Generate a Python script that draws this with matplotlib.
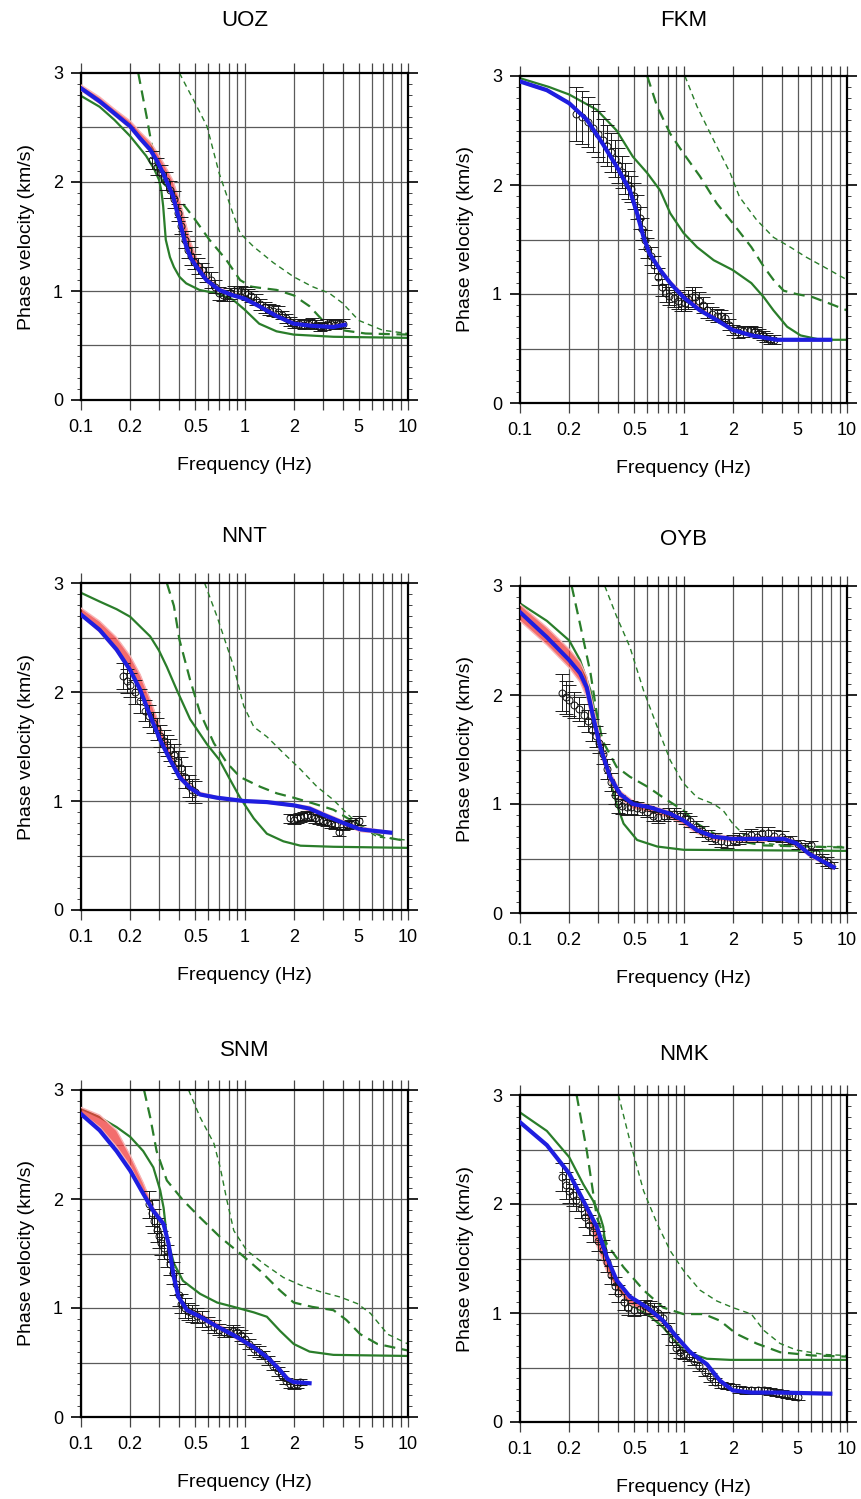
import matplotlib
matplotlib.use("Agg")
import matplotlib.pyplot as plt
from matplotlib.ticker import FixedLocator, MultipleLocator, NullFormatter

plt.rcParams['font.family'] = ['Liberation Sans', 'DejaVu Sans']

# theoretical modes: m0 = fundamental (green solid), m1 / m2 = higher modes (green dashed)
# best = best model (blue), red_hi / red_lo = spread of the accepted models (red band, same freqs as best)
# obs = (freq, phase velocity, error) of the observed dispersion curve

# ---- UOZ ----
uoz_m0 = [(0.1, 2.79), (0.13, 2.69), (0.16, 2.57), (0.2, 2.42), (0.25, 2.24), (0.28, 2.12), (0.3, 2.02),
          (0.31, 1.92), (0.318, 1.78), (0.33, 1.47), (0.35, 1.31), (0.37, 1.22), (0.40, 1.13), (0.44, 1.07),
          (0.53, 1.01), (0.67, 0.98), (0.85, 0.92), (1.0, 0.83), (1.23, 0.70), (1.57, 0.63), (2.0, 0.60),
          (3.5, 0.58), (10, 0.57)]
uoz_m1 = [(0.224, 3.0), (0.252, 2.60), (0.27, 2.35), (0.29, 2.14), (0.318, 1.99), (0.35, 1.93), (0.384, 1.87),
          (0.43, 1.78), (0.485, 1.68), (0.61, 1.47), (0.77, 1.29), (0.94, 1.10), (1.1, 1.04), (1.23, 1.03),
          (1.57, 1.01), (2.0, 0.96), (2.5, 0.86), (3.14, 0.70), (3.97, 0.64), (5.5, 0.61), (10, 0.60)]
uoz_m2 = [(0.40, 3.0), (0.44, 2.88), (0.485, 2.76), (0.59, 2.51), (0.70, 2.08), (0.85, 1.71), (0.94, 1.53),
          (1.13, 1.41), (1.5, 1.26), (2.0, 1.13), (2.6, 1.04), (3.3, 0.98), (3.97, 0.89), (5.0, 0.73),
          (7.0, 0.64), (10, 0.61)]
uoz_best = [(0.1, 2.86), (0.13, 2.74), (0.16, 2.63), (0.2, 2.51), (0.23, 2.40), (0.264, 2.30), (0.29, 2.20),
            (0.318, 2.08), (0.34, 1.98), (0.366, 1.87), (0.38, 1.77), (0.40, 1.65), (0.42, 1.52), (0.44, 1.41),
            (0.47, 1.30), (0.51, 1.22), (0.585, 1.10), (0.70, 1.01), (0.85, 0.96), (1.0, 0.93), (1.23, 0.86),
            (1.57, 0.77), (2.0, 0.70), (2.6, 0.68), (3.5, 0.67), (4.1, 0.69)]
uoz_red_hi = [2.89, 2.78, 2.67, 2.56, 2.46, 2.37, 2.28, 2.18, 2.10, 2.01, 1.93, 1.84, 1.72, 1.60, 1.44, 1.30,
              1.14, 1.03, 0.98, 0.95, 0.88, 0.79, 0.72, 0.70, 0.69, 0.71]
uoz_red_lo = [2.84, 2.72, 2.61, 2.49, 2.38, 2.28, 2.18, 2.06, 1.96, 1.85, 1.75, 1.63, 1.50, 1.39, 1.28, 1.20,
              1.08, 0.99, 0.95, 0.92, 0.85, 0.76, 0.69, 0.67, 0.66, 0.68]
uoz_obs = [(0.27, 2.20, 0.08), (0.29, 2.14, 0.08), (0.31, 2.08, 0.08), (0.33, 2.01, 0.08), (0.35, 1.93, 0.08),
           (0.37, 1.84, 0.08), (0.39, 1.72, 0.08), (0.41, 1.60, 0.08), (0.43, 1.47, 0.08), (0.45, 1.38, 0.08),
           (0.47, 1.32, 0.08), (0.49, 1.27, 0.07), (0.52, 1.23, 0.07), (0.55, 1.19, 0.07), (0.58, 1.15, 0.07),
           (0.62, 1.10, 0.07), (0.66, 1.04, 0.06), (0.70, 0.98, 0.06), (0.74, 0.96, 0.05), (0.78, 0.96, 0.05),
           (0.82, 0.98, 0.05), (0.86, 1.00, 0.05), (0.90, 1.00, 0.05), (0.95, 1.00, 0.05), (1.00, 0.99, 0.05),
           (1.05, 0.97, 0.05), (1.10, 0.95, 0.05), (1.17, 0.92, 0.05), (1.25, 0.88, 0.05), (1.33, 0.85, 0.05),
           (1.42, 0.83, 0.05), (1.50, 0.82, 0.05), (1.60, 0.81, 0.05), (1.70, 0.78, 0.04), (1.80, 0.75, 0.04),
           (1.90, 0.72, 0.04), (2.00, 0.70, 0.04), (2.15, 0.70, 0.04), (2.30, 0.69, 0.04), (2.45, 0.70, 0.04),
           (2.60, 0.71, 0.04), (2.75, 0.69, 0.04), (2.90, 0.67, 0.04), (3.05, 0.68, 0.04), (3.20, 0.70, 0.04),
           (3.40, 0.70, 0.04), (3.60, 0.69, 0.04), (3.80, 0.70, 0.04), (4.00, 0.70, 0.04)]

# ---- FKM ----
fkm_m0 = [(0.1, 2.98), (0.15, 2.90), (0.2, 2.83), (0.295, 2.69), (0.39, 2.50), (0.49, 2.26), (0.6, 2.11),
          (0.72, 1.95), (0.83, 1.74), (1.0, 1.56), (1.21, 1.43), (1.53, 1.31), (2.0, 1.22), (2.6, 1.10),
          (3.1, 0.97), (3.55, 0.85), (4.3, 0.70), (5.2, 0.62), (6.9, 0.58), (10, 0.58)]
fkm_m1 = [(0.60, 3.0), (0.69, 2.72), (0.83, 2.47), (1.0, 2.29), (1.26, 2.08), (1.6, 1.83), (2.0, 1.65),
          (2.6, 1.43), (3.1, 1.25), (3.55, 1.13), (4.1, 1.03), (4.9, 1.00), (6.2, 0.97), (7.9, 0.91), (10, 0.85)]
fkm_m2 = [(1.02, 3.0), (1.21, 2.72), (1.53, 2.41), (1.93, 2.11), (2.2, 1.89), (2.8, 1.68), (3.55, 1.52),
          (4.5, 1.43), (5.6, 1.34), (7.2, 1.25), (10, 1.13)]
fkm_best = [(0.1, 2.95), (0.146, 2.87), (0.2, 2.75), (0.256, 2.60), (0.32, 2.38), (0.39, 2.17), (0.47, 1.95),
            (0.52, 1.74), (0.57, 1.52), (0.62, 1.37), (0.72, 1.22), (0.83, 1.10), (1.0, 0.97), (1.26, 0.85),
            (1.6, 0.76), (2.0, 0.67), (2.6, 0.62), (3.7, 0.58), (6.2, 0.58), (7.9, 0.58)]
fkm_red_hi = [2.96, 2.88, 2.76, 2.61, 2.39, 2.18, 1.96, 1.76, 1.54, 1.39, 1.24, 1.12, 1.00, 0.88, 0.78, 0.69,
              0.63, 0.59, 0.58, 0.58]
fkm_red_lo = [2.94, 2.86, 2.74, 2.59, 2.37, 2.16, 1.94, 1.73, 1.51, 1.36, 1.21, 1.09, 0.96, 0.84, 0.75, 0.66,
              0.61, 0.57, 0.57, 0.57]
fkm_obs = [(0.22, 2.65, 0.25), (0.24, 2.62, 0.24), (0.26, 2.58, 0.23), (0.28, 2.52, 0.22), (0.30, 2.47, 0.21),
           (0.32, 2.41, 0.20), (0.34, 2.36, 0.19), (0.36, 2.30, 0.18), (0.38, 2.24, 0.17), (0.40, 2.18, 0.16),
           (0.42, 2.12, 0.15), (0.44, 2.06, 0.14), (0.46, 2.00, 0.13), (0.48, 1.96, 0.12), (0.50, 1.90, 0.12),
           (0.52, 1.80, 0.11), (0.54, 1.70, 0.10), (0.56, 1.60, 0.10), (0.58, 1.50, 0.09), (0.60, 1.42, 0.09),
           (0.63, 1.35, 0.08), (0.66, 1.27, 0.08), (0.70, 1.16, 0.08), (0.74, 1.06, 0.08), (0.78, 1.01, 0.08),
           (0.82, 0.98, 0.08), (0.87, 0.96, 0.08), (0.92, 0.94, 0.08), (0.97, 0.92, 0.08), (1.02, 0.92, 0.08),
           (1.07, 0.95, 0.09), (1.12, 0.97, 0.09), (1.18, 0.97, 0.09), (1.25, 0.94, 0.08), (1.32, 0.90, 0.07),
           (1.40, 0.85, 0.07), (1.50, 0.82, 0.06), (1.60, 0.80, 0.06), (1.70, 0.80, 0.05), (1.80, 0.78, 0.05),
           (1.90, 0.72, 0.05), (2.00, 0.67, 0.05), (2.15, 0.65, 0.05), (2.30, 0.66, 0.05), (2.45, 0.67, 0.04),
           (2.60, 0.67, 0.04), (2.75, 0.66, 0.04), (2.90, 0.64, 0.04), (3.05, 0.62, 0.04), (3.20, 0.60, 0.04),
           (3.40, 0.58, 0.04), (3.60, 0.58, 0.04)]

# ---- NNT ----
nnt_m0 = [(0.1, 2.91), (0.13, 2.83), (0.165, 2.76), (0.2, 2.69), (0.265, 2.51), (0.3, 2.38), (0.335, 2.23),
          (0.385, 2.02), (0.465, 1.75), (0.59, 1.52), (0.7, 1.38), (0.8, 1.22), (0.94, 1.03), (1.14, 0.84),
          (1.37, 0.70), (1.73, 0.63), (2.2, 0.59), (3.5, 0.58), (10, 0.57)]
nnt_m1 = [(0.335, 3.0), (0.37, 2.79), (0.40, 2.48), (0.465, 2.11), (0.535, 1.81), (0.65, 1.53), (0.78, 1.35),
          (0.94, 1.22), (1.25, 1.13), (1.58, 1.07), (2.0, 1.03), (2.6, 0.98), (3.5, 0.92), (4.4, 0.83),
          (5.6, 0.74), (7.1, 0.67), (10, 0.63)]
nnt_m2 = [(0.57, 3.0), (0.68, 2.69), (0.86, 2.23), (0.99, 1.87), (1.14, 1.68), (1.37, 1.59), (1.73, 1.44),
          (2.2, 1.29), (2.78, 1.13), (3.5, 1.01), (4.2, 0.89), (5.1, 0.77), (6.5, 0.67), (10, 0.64)]
nnt_best = [(0.1, 2.71), (0.13, 2.57), (0.165, 2.39), (0.2, 2.20), (0.23, 2.02), (0.265, 1.78), (0.305, 1.56),
            (0.35, 1.38), (0.40, 1.22), (0.465, 1.12), (0.535, 1.06), (0.68, 1.03), (0.99, 1.00), (1.37, 0.99),
            (2.0, 0.96), (2.5, 0.93), (3.2, 0.86), (4.0, 0.80), (5.1, 0.74), (7.8, 0.71)]
nnt_red_hi = [2.77, 2.65, 2.50, 2.33, 2.16, 1.93, 1.68, 1.46, 1.27, 1.15, 1.08, 1.04, 1.01, 1.00, 0.97, 0.95,
              0.88, 0.82, 0.76, 0.72]
nnt_red_lo = [2.70, 2.55, 2.37, 2.18, 2.00, 1.76, 1.54, 1.36, 1.20, 1.10, 1.05, 1.02, 0.99, 0.98, 0.95, 0.91,
              0.84, 0.78, 0.72, 0.70]
nnt_obs = [(0.18, 2.15, 0.12), (0.19, 2.10, 0.11), (0.20, 2.06, 0.11), (0.215, 2.00, 0.11), (0.23, 1.92, 0.11),
           (0.245, 1.83, 0.10), (0.26, 1.78, 0.10), (0.275, 1.72, 0.10), (0.29, 1.66, 0.10), (0.305, 1.60, 0.10),
           (0.32, 1.55, 0.10), (0.335, 1.51, 0.10), (0.35, 1.47, 0.10), (0.37, 1.42, 0.10), (0.39, 1.36, 0.10),
           (0.41, 1.30, 0.10), (0.43, 1.22, 0.10), (0.455, 1.14, 0.10), (0.48, 1.10, 0.10), (0.50, 1.08, 0.10),
           (1.90, 0.84, 0.04), (2.00, 0.83, 0.04), (2.10, 0.84, 0.04), (2.20, 0.85, 0.04), (2.30, 0.86, 0.04),
           (2.40, 0.87, 0.04), (2.55, 0.86, 0.04), (2.70, 0.84, 0.04), (2.85, 0.83, 0.04), (3.00, 0.82, 0.04),
           (3.20, 0.81, 0.04), (3.40, 0.79, 0.04), (3.60, 0.78, 0.04), (3.80, 0.72, 0.04), (4.00, 0.77, 0.04),
           (4.25, 0.78, 0.04), (4.50, 0.79, 0.04), (4.75, 0.80, 0.04), (5.00, 0.82, 0.04)]

# ---- OYB ----
oyb_m0 = [(0.1, 2.84), (0.146, 2.68), (0.2, 2.50), (0.233, 2.32), (0.27, 2.04), (0.295, 1.74), (0.32, 1.43),
          (0.355, 1.22), (0.39, 1.00), (0.43, 0.82), (0.52, 0.67), (0.69, 0.61), (1.0, 0.58), (10, 0.57)]
oyb_m1 = [(0.207, 3.0), (0.233, 2.65), (0.27, 2.20), (0.295, 1.83), (0.32, 1.58), (0.39, 1.34), (0.47, 1.25),
          (0.60, 1.16), (0.75, 1.06), (1.0, 0.94), (1.21, 0.82), (1.53, 0.73), (2.0, 0.67), (3.1, 0.62), (10, 0.60)]
oyb_m2 = [(0.33, 3.0), (0.39, 2.72), (0.47, 2.44), (0.57, 2.04), (0.69, 1.71), (0.83, 1.40), (1.0, 1.19),
          (1.21, 1.06), (1.53, 1.00), (1.75, 0.94), (2.0, 0.82), (2.4, 0.70), (3.1, 0.64), (4.9, 0.61), (10, 0.61)]
oyb_best = [(0.1, 2.76), (0.146, 2.53), (0.2, 2.32), (0.233, 2.20), (0.256, 2.07), (0.28, 1.80), (0.31, 1.52),
            (0.355, 1.25), (0.41, 1.09), (0.49, 1.00), (0.62, 0.97), (0.83, 0.91), (1.0, 0.85), (1.21, 0.76),
            (1.53, 0.70), (2.0, 0.68), (3.1, 0.68), (4.1, 0.68), (4.9, 0.64), (5.9, 0.54), (7.2, 0.47), (8.3, 0.42)]
oyb_red_hi = [2.83, 2.62, 2.42, 2.30, 2.17, 1.90, 1.60, 1.30, 1.12, 1.03, 0.99, 0.93, 0.87, 0.78, 0.72, 0.70,
              0.70, 0.70, 0.66, 0.56, 0.49, 0.44]
oyb_red_lo = [2.68, 2.46, 2.25, 2.12, 1.98, 1.72, 1.46, 1.20, 1.05, 0.96, 0.93, 0.87, 0.81, 0.73, 0.67, 0.66,
              0.66, 0.66, 0.61, 0.52, 0.45, 0.40]
oyb_obs = [(0.18, 2.02, 0.17), (0.19, 1.98, 0.15), (0.20, 1.95, 0.14), (0.215, 1.91, 0.12), (0.23, 1.87, 0.11),
           (0.245, 1.82, 0.10), (0.26, 1.76, 0.10), (0.275, 1.68, 0.10), (0.29, 1.62, 0.10), (0.305, 1.56, 0.09),
           (0.32, 1.46, 0.09), (0.34, 1.32, 0.09), (0.36, 1.20, 0.08), (0.38, 1.08, 0.08), (0.40, 1.00, 0.08),
           (0.42, 0.98, 0.07), (0.45, 0.97, 0.07), (0.48, 0.97, 0.06), (0.52, 0.96, 0.06), (0.56, 0.95, 0.05),
           (0.60, 0.93, 0.05), (0.65, 0.89, 0.05), (0.70, 0.88, 0.05), (0.76, 0.89, 0.05), (0.82, 0.91, 0.05),
           (0.88, 0.91, 0.05), (0.95, 0.89, 0.05), (1.02, 0.87, 0.05), (1.10, 0.84, 0.05), (1.20, 0.79, 0.05),
           (1.30, 0.75, 0.05), (1.42, 0.71, 0.05), (1.55, 0.68, 0.05), (1.70, 0.66, 0.05), (1.85, 0.65, 0.05),
           (2.00, 0.67, 0.05), (2.20, 0.68, 0.05), (2.40, 0.70, 0.05), (2.60, 0.72, 0.05), (2.80, 0.70, 0.05),
           (3.00, 0.73, 0.06), (3.30, 0.73, 0.06), (3.60, 0.71, 0.05), (4.00, 0.70, 0.05), (4.50, 0.67, 0.04),
           (5.00, 0.63, 0.04), (5.50, 0.60, 0.04), (6.00, 0.62, 0.04), (6.50, 0.55, 0.04), (7.00, 0.50, 0.04),
           (7.50, 0.47, 0.04), (8.00, 0.44, 0.03)]

# ---- SNM ----
snm_m0 = [(0.1, 2.83), (0.13, 2.75), (0.165, 2.66), (0.2, 2.57), (0.24, 2.44), (0.277, 2.29), (0.305, 2.08),
          (0.32, 1.92), (0.335, 1.65), (0.37, 1.41), (0.42, 1.25), (0.535, 1.13), (0.68, 1.05), (0.86, 1.01),
          (1.14, 0.96), (1.37, 0.92), (1.65, 0.79), (2.0, 0.67), (2.5, 0.60), (3.5, 0.57), (10, 0.56)]
snm_m1 = [(0.243, 3.0), (0.265, 2.75), (0.29, 2.44), (0.335, 2.17), (0.42, 1.99), (0.535, 1.83), (0.71, 1.65),
          (0.94, 1.50), (1.25, 1.34), (1.65, 1.16), (2.0, 1.05), (2.6, 1.01), (3.5, 0.98), (4.2, 0.89),
          (5.1, 0.76), (6.5, 0.67), (10, 0.61)]
snm_m2 = [(0.455, 3.0), (0.535, 2.75), (0.65, 2.51), (0.71, 2.29), (0.78, 1.99), (0.86, 1.71), (1.03, 1.53),
          (1.3, 1.41), (1.73, 1.28), (2.2, 1.21), (2.9, 1.15), (3.86, 1.10), (4.9, 1.04), (5.9, 0.95),
          (7.5, 0.76), (10, 0.67)]
snm_best = [(0.1, 2.78), (0.13, 2.63), (0.165, 2.44), (0.2, 2.26), (0.24, 2.05), (0.277, 1.89), (0.32, 1.77),
            (0.343, 1.59), (0.37, 1.28), (0.395, 1.10), (0.445, 0.98), (0.535, 0.92), (0.68, 0.83), (0.86, 0.75),
            (1.14, 0.64), (1.37, 0.55), (1.58, 0.46), (1.83, 0.35), (2.0, 0.32), (2.5, 0.31)]
snm_red_hi = [2.84, 2.77, 2.63, 2.40, 2.15, 1.92, 1.79, 1.61, 1.31, 1.12, 1.00, 0.95, 0.86, 0.77, 0.66, 0.57,
              0.48, 0.37, 0.33, 0.32]
snm_red_lo = [2.79, 2.66, 2.48, 2.30, 2.07, 1.88, 1.75, 1.57, 1.26, 1.08, 0.96, 0.90, 0.81, 0.73, 0.62, 0.53,
              0.44, 0.33, 0.30, 0.30]
snm_obs = [(0.26, 1.95, 0.12), (0.27, 1.87, 0.12), (0.28, 1.80, 0.11), (0.29, 1.72, 0.11), (0.30, 1.66, 0.11),
           (0.31, 1.60, 0.11), (0.32, 1.55, 0.10), (0.335, 1.48, 0.10), (0.35, 1.40, 0.10), (0.365, 1.32, 0.10),
           (0.38, 1.22, 0.10), (0.395, 1.12, 0.10), (0.41, 1.04, 0.09), (0.43, 1.00, 0.09), (0.45, 0.97, 0.08),
           (0.48, 0.95, 0.08), (0.51, 0.93, 0.07), (0.55, 0.90, 0.07), (0.60, 0.86, 0.06), (0.65, 0.83, 0.06),
           (0.70, 0.80, 0.05), (0.75, 0.78, 0.05), (0.80, 0.78, 0.05), (0.85, 0.79, 0.05), (0.90, 0.78, 0.05),
           (0.95, 0.75, 0.05), (1.00, 0.72, 0.05), (1.07, 0.67, 0.05), (1.15, 0.62, 0.05), (1.22, 0.60, 0.05),
           (1.30, 0.57, 0.04), (1.40, 0.52, 0.04), (1.50, 0.47, 0.04), (1.60, 0.42, 0.04), (1.70, 0.38, 0.04),
           (1.80, 0.33, 0.03), (1.90, 0.30, 0.03), (2.00, 0.29, 0.03), (2.10, 0.30, 0.03), (2.20, 0.32, 0.03)]

# ---- NMK ----
nmk_m0 = [(0.1, 2.84), (0.146, 2.67), (0.2, 2.43), (0.244, 2.18), (0.28, 2.03), (0.31, 1.88), (0.323, 1.79),
          (0.34, 1.51), (0.364, 1.33), (0.41, 1.21), (0.47, 1.08), (0.6, 0.99), (0.75, 0.87), (0.91, 0.72),
          (1.1, 0.63), (1.39, 0.58), (1.93, 0.57), (10, 0.57)]
nmk_m1 = [(0.222, 3.0), (0.256, 2.49), (0.295, 1.88), (0.34, 1.63), (0.43, 1.42), (0.57, 1.21), (0.75, 1.05),
          (1.0, 0.99), (1.33, 0.99), (1.67, 0.93), (2.1, 0.81), (2.8, 0.72), (3.9, 0.64), (6.2, 0.61), (10, 0.60)]
nmk_m2 = [(0.40, 3.0), (0.47, 2.58), (0.57, 2.12), (0.69, 1.82), (0.83, 1.57), (1.0, 1.39), (1.26, 1.21),
          (1.6, 1.11), (2.0, 1.05), (2.6, 0.99), (3.1, 0.84), (3.9, 0.72), (4.9, 0.66), (7.2, 0.62), (10, 0.61)]
nmk_best = [(0.1, 2.75), (0.146, 2.54), (0.2, 2.28), (0.244, 2.03), (0.295, 1.79), (0.34, 1.51), (0.39, 1.30),
            (0.47, 1.15), (0.6, 1.05), (0.75, 0.93), (0.91, 0.78), (1.1, 0.64), (1.39, 0.53), (1.67, 0.38),
            (2.0, 0.29), (2.6, 0.27), (3.9, 0.27), (7.9, 0.26)]
nmk_red_hi = [2.76, 2.55, 2.29, 2.04, 1.80, 1.52, 1.31, 1.16, 1.06, 0.94, 0.79, 0.65, 0.54, 0.39, 0.30, 0.28,
              0.28, 0.27]
nmk_red_lo = [2.74, 2.53, 2.26, 2.00, 1.62, 1.38, 1.22, 1.08, 1.01, 0.90, 0.75, 0.62, 0.51, 0.36, 0.28, 0.26,
              0.26, 0.25]
nmk_obs = [(0.18, 2.25, 0.13), (0.19, 2.17, 0.12), (0.20, 2.12, 0.11), (0.21, 2.08, 0.10), (0.22, 2.04, 0.10),
           (0.235, 1.96, 0.09), (0.25, 1.88, 0.09), (0.265, 1.81, 0.09), (0.28, 1.74, 0.09), (0.30, 1.66, 0.09),
           (0.32, 1.58, 0.09), (0.34, 1.47, 0.09), (0.36, 1.35, 0.08), (0.38, 1.25, 0.08), (0.40, 1.18, 0.08),
           (0.43, 1.10, 0.07), (0.46, 1.05, 0.07), (0.50, 1.03, 0.06), (0.54, 1.04, 0.06), (0.58, 1.06, 0.06),
           (0.62, 1.05, 0.06), (0.66, 1.03, 0.06), (0.70, 1.00, 0.06), (0.75, 0.95, 0.06), (0.80, 0.86, 0.05),
           (0.85, 0.76, 0.05), (0.90, 0.68, 0.05), (0.95, 0.64, 0.05), (1.00, 0.62, 0.04), (1.08, 0.60, 0.04),
           (1.16, 0.56, 0.04), (1.25, 0.51, 0.04), (1.35, 0.46, 0.04), (1.45, 0.41, 0.04), (1.55, 0.37, 0.03),
           (1.70, 0.34, 0.03), (1.85, 0.33, 0.03), (2.00, 0.32, 0.03), (2.20, 0.30, 0.03), (2.40, 0.29, 0.03),
           (2.60, 0.29, 0.03), (2.85, 0.29, 0.03), (3.10, 0.29, 0.03), (3.40, 0.28, 0.03), (3.70, 0.27, 0.03),
           (4.00, 0.26, 0.03), (4.30, 0.25, 0.03), (4.60, 0.24, 0.03), (5.00, 0.23, 0.03)]

stations = ['UOZ', 'FKM', 'NNT', 'OYB', 'SNM', 'NMK']
panels = [
    (uoz_m0, uoz_m1, uoz_m2, uoz_best, uoz_red_hi, uoz_red_lo, uoz_obs),
    (fkm_m0, fkm_m1, fkm_m2, fkm_best, fkm_red_hi, fkm_red_lo, fkm_obs),
    (nnt_m0, nnt_m1, nnt_m2, nnt_best, nnt_red_hi, nnt_red_lo, nnt_obs),
    (oyb_m0, oyb_m1, oyb_m2, oyb_best, oyb_red_hi, oyb_red_lo, oyb_obs),
    (snm_m0, snm_m1, snm_m2, snm_best, snm_red_hi, snm_red_lo, snm_obs),
    (nmk_m0, nmk_m1, nmk_m2, nmk_best, nmk_red_hi, nmk_red_lo, nmk_obs),
]

# layout in pixels of the 861x1499 image: (left, bottom of axes, title centre y)
W, H = 861., 1499.
layout = [(81, 400, 20), (520, 403, 20),
          (81, 910, 537), (520, 913, 540),
          (81, 1417, 1051), (520, 1422, 1055)]
AX_W, AX_H = 327., 327.

green = '#2a7d2a'
blue = '#1e1ee0'
gridc = '#5a5a5a'

fig = plt.figure(figsize=(W / 100, H / 100), dpi=100)

for name, data, (lx, by, ty) in zip(stations, panels, layout):
    m0, m1, m2, best, red_hi, red_lo, obs = data
    ax = fig.add_axes([lx / W, 1 - by / H, AX_W / W, AX_H / H])

    # theoretical modes
    f, v = zip(*m0)
    ax.plot(f, v, color=green, lw=1.6, zorder=2)
    f, v = zip(*m1)
    ax.plot(f, v, color=green, lw=1.6, ls=(0, (5, 3)), zorder=2)
    f, v = zip(*m2)
    ax.plot(f, v, color=green, lw=1.0, ls=(0, (4, 3)), zorder=2)

    # red band of models
    fb, vb = zip(*best)
    ax.fill_between(fb, red_lo, red_hi, color='#f03c3c', alpha=0.75, lw=0, zorder=3)
    ax.plot(fb, red_hi, color='#f8b4b4', lw=1.0, zorder=3)
    ax.plot(fb, red_lo, color='#f8b4b4', lw=1.0, zorder=3)

    # observed
    fo, vo, eo = zip(*obs)
    ax.errorbar(fo, vo, yerr=eo, fmt='o', ms=5, mfc='none', mec='#111111', mew=0.7,
                ecolor='#1a1a1a', elinewidth=0.7, capsize=5, capthick=0.7, zorder=4)

    # best model
    ax.plot(fb, vb, color=blue, lw=3, zorder=5)

    ax.set_xscale('log')
    ax.set_xlim(0.1, 10)
    ax.set_ylim(0, 3)
    ax.xaxis.set_major_locator(FixedLocator([0.1, 0.2, 0.5, 1, 2, 5, 10]))
    ax.xaxis.set_minor_locator(FixedLocator([0.3, 0.4, 0.6, 0.7, 0.8, 0.9, 3, 4, 6, 7, 8, 9]))
    ax.xaxis.set_minor_formatter(NullFormatter())
    ax.set_xticklabels(['0.1', '0.2', '0.5', '1', '2', '5', '10'])
    ax.yaxis.set_major_locator(MultipleLocator(1))
    ax.yaxis.set_minor_locator(MultipleLocator(0.1))

    ax.grid(which='both', axis='x', color=gridc, lw=0.9)
    for yg in [0.5, 1, 1.5, 2, 2.5]:
        ax.axhline(yg, color=gridc, lw=0.9, zorder=1)

    ax.tick_params(which='both', direction='out', top=True, right=True, labelsize=13)
    ax.tick_params(axis='x', which='both', length=7, width=0.9, pad=7, color='#444444')
    ax.tick_params(axis='y', which='major', length=7, width=1.2, pad=6)
    ax.tick_params(axis='y', which='minor', length=3, width=0.7, color='#444444')
    for s in ax.spines.values():
        s.set_linewidth(1.6)

    ax.set_xlabel('Frequency (Hz)', fontsize=14, labelpad=15)
    ax.set_ylabel('Phase velocity (km/s)', fontsize=14, labelpad=13)

    fig.text((lx + AX_W / 2) / W, 1 - ty / H, name, ha='center', va='center', fontsize=16)

fig.savefig('out.png', dpi=100)
